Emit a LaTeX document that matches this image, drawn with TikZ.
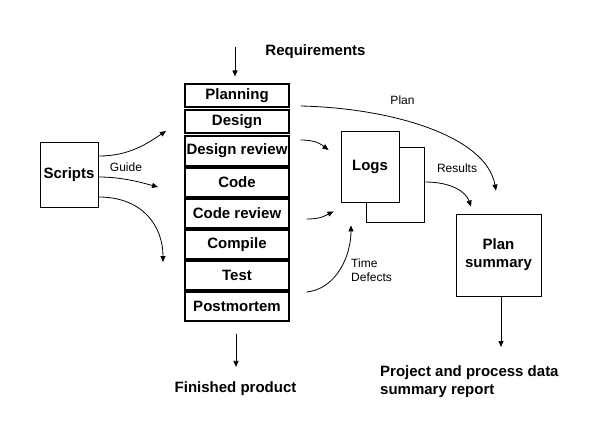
\documentclass[tikz,border=0pt]{standalone}
\usepackage{fontspec}
\setmainfont{Liberation Sans}
\usetikzlibrary{arrows.meta,calc}

\begin{document}
\begin{tikzpicture}[x=1pt,y=-1pt]
\tikzstyle{every node}+=[inner sep=0pt]
\tikzstyle{big}=[font=\fontsize{15}{18}\selectfont\bfseries]
\tikzstyle{small}=[font=\fontsize{12}{14}\selectfont]
\tikzstyle{phase}=[big,draw,line width=1.1pt,minimum width=104pt]
\tikzstyle{box}=[big,draw,line width=0.9pt,fill=white,align=center]
\tikzstyle{flow}=[line width=0.8pt,-{Triangle[length=6pt,width=5pt]}]
\useasboundingbox (0,0) rectangle (609,430);
% process phases
\node [phase,minimum height=23pt] (plan) at (237,95.5) {Planning};
\node [phase,minimum height=23pt] (des) at (237,121.5) {Design};
\node [phase,minimum height=30pt] (drev) at (237,151) {Design review};
\node [phase,minimum height=29pt] (code) at (237,182.5) {Code};
\node [phase,minimum height=29pt] (crev) at (237,213.5) {Code review};
\node [phase,minimum height=29pt] (comp) at (237,244.5) {Compile};
\node [phase,minimum height=29pt] (test) at (237,275.5) {Test};
\node [phase,minimum height=29pt] (post) at (237,306.5) {Postmortem};
% boxes
\node [box,minimum width=58pt,minimum height=65pt] (scripts) at (69,174.5) {Scripts};
\node [box,minimum width=58pt,minimum height=75pt] (logsb) at (395,184.5) {};
\node [box,minimum width=58pt,minimum height=71pt] (logs) at (370,166.5) {Logs};
\node [box,minimum width=85pt,minimum height=82pt] (psum) at (498.5,255) {Plan\\summary};
% texts
\node [big,anchor=base] (req) at (315.5,55.5) {Requirements};
\node [big,anchor=base] (fin) at (235.5,392) {Finished product};
\node [big,anchor=north west,align=left] (report) at (380,365) {Project and process data\\summary report};
\node [small,anchor=base] (plantxt) at (402.5,104.3) {Plan};
\node [small,anchor=base] (guide) at (126,172) {Guide};
\node [small,anchor=base] (restxt) at (457,172.3) {Results};
\node [small,anchor=north west,align=left] (timetxt) at (351,258.5) {Time\\Defects};
% free ends
\coordinate (reqin) at (235,47);
\coordinate (g1) at (166,131);
\coordinate (g2) at (158,187);
\coordinate (g3) at (163,262);
% arrows
\draw [flow] (reqin) -- ($(plan.north)+(-2,-7)$);
\draw [flow] ($(post.south)+(-1,12)$) -- ($(fin.north)+(0.5,-14)$);
\draw [flow] ($(psum.south)+(2.5,0)$) -- ($(report.north west)+(121,-18)$);
\draw [flow] ($(scripts.east)+(1,-18.5)$) .. controls +(30,0) and +(-18,12) .. (g1);
\draw [flow] ($(scripts.east)+(0,2.5)$) .. controls +(25,0) and +(-15,-4) .. (g2);
\draw [flow] ($(scripts.east)+(0,22.5)$) .. controls +(45,0) and +(0,-35) .. (g3);
\draw [flow] ($(plan.east)+(11,10.5)$) .. controls +(90,2) and +(-10,-55) .. ($(psum.north)+(-2.5,-23)$);
\draw [flow] ($(drev.east)+(11,-11)$) .. controls +(15,0) and +(-8,-6) .. ($(logs.west)+(-12,-16.5)$);
\draw [flow] ($(crev.east)+(17,5.5)$) .. controls +(15,0) and +(-8,4) .. ($(logs.south west)+(-7,9)$);
\draw [flow] ($(post.east)+(17,-14.5)$) .. controls +(30,-3) and +(0,30) .. ($(logs.south)+(-19,23)$);
\draw [flow] ($(logsb.east)+(1,-2.5)$) .. controls +(25,0) and +(-5,-15) .. ($(psum.north)+(-27.5,-7)$);
\end{tikzpicture}
\end{document}
